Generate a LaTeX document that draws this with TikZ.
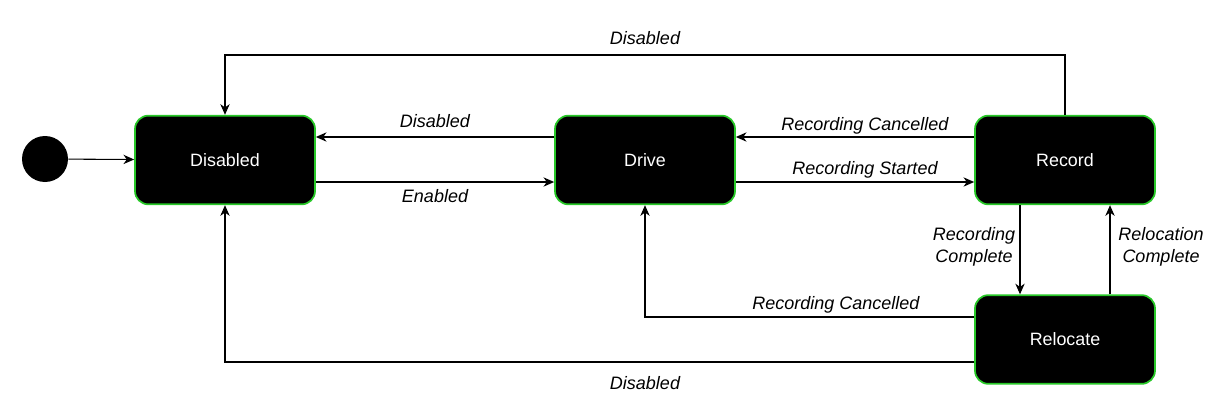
\documentclass[tikz,border=0pt]{standalone}
\usepackage{fontspec}
\setmainfont{Liberation Sans}
\usetikzlibrary{arrows.meta}
\definecolor{boxgreen}{RGB}{40,200,40}
\begin{document}
\begin{tikzpicture}[x=0.75pt,y=-0.75pt,
  state/.style={draw=boxgreen,line width=1.3pt,fill=black,rounded corners=10pt,
    minimum width=135pt,minimum height=66.5pt,text=white,font=\fontsize{13.4}{15}\selectfont,inner sep=0pt},
  conn/.style={line width=0.8pt,-{Stealth[length=8pt,width=7pt,inset=2.5pt]}},
  lbl/.style={font=\fontsize{13.5}{16}\itshape\selectfont,inner sep=1pt,align=center}]
\useasboundingbox (0,0) rectangle (1219,410);
\node[circle,fill=black,minimum size=34.5pt,inner sep=0pt] (init) at (45,159) {};
\node[state] (dis) at (225,160) {Disabled};
\node[state] (drv) at (645,160) {Drive};
\node[state] (rec) at (1065,160) {Record};
\node[state] (rel) at (1065,339.5) {Relocate};
\draw[conn] (init) -- (dis);
% Record -> Disabled over top
\draw[conn] (rec.north) |- (645,55) -| (dis.north);
\node[lbl] (l1) at (645,38) {Disabled};
% Drive -> Disabled
\draw[conn] (drv.west |- 0,137) -- (dis.east |- 0,137);
\node[lbl] (l2) at (435,121) {Disabled};
% Disabled -> Drive
\draw[conn] (dis.east |- 0,182) -- (drv.west |- 0,182);
\node[lbl] (l3) at (435,196) {Enabled};
% Record -> Drive
\draw[conn] (rec.west |- 0,137) -- (drv.east |- 0,137);
\node[lbl] (l4) at (865,126) {Recording Cancelled};
% Drive -> Record
\draw[conn] (drv.east |- 0,182) -- (rec.west |- 0,182);
\node[lbl] (l5) at (865,170) {Recording Started};
% Record -> Relocate
\draw[conn] (rec.south -| 1020,0) -- (rel.north -| 1020,0);
\node[lbl] (l6) at (974,247) {Recording\\Complete};
% Relocate -> Record
\draw[conn] (rel.north -| 1110,0) -- (rec.south -| 1110,0);
\node[lbl] (l7) at (1161,247) {Relocation\\Complete};
% Relocate -> Drive
\draw[conn] (rel.west |- 0,317) -| (drv.south);
\node[lbl] (l8) at (836,305) {Recording Cancelled};
% Relocate -> Disabled
\draw[conn] (rel.west |- 0,362) -| (dis.south);
\node[lbl] (l9) at (645,383) {Disabled};
\end{tikzpicture}
\end{document}
